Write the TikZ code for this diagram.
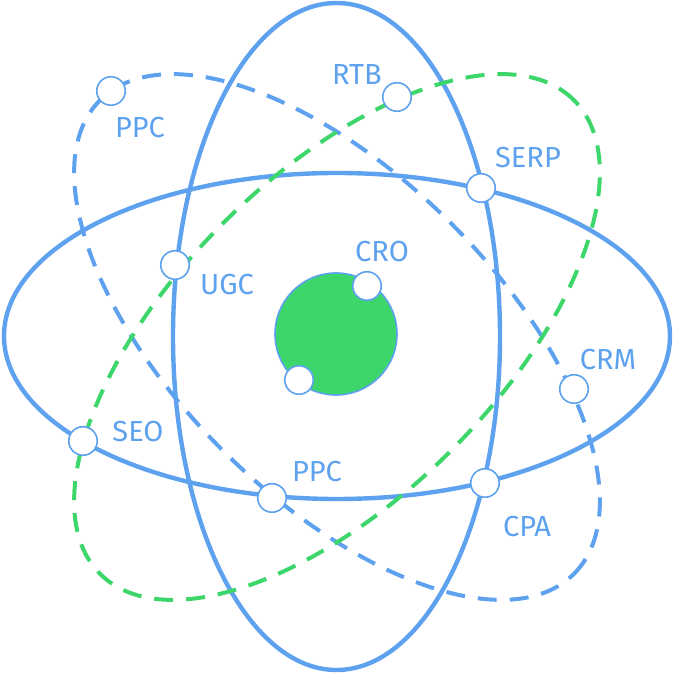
\documentclass[tikz,border=0pt]{standalone}
\usepackage{fontspec}
\setmainfont{Fira Sans}
\definecolor{orbitblue}{HTML}{5EA2EF}
\definecolor{orbitgreen}{HTML}{3DD66B}
\tikzset{
  orbit/.style={draw=orbitblue,line width=4.4pt},
  dashorbit/.style={line width=4pt,dash pattern=on 19pt off 13pt},
  planet/.style={circle,draw=orbitblue,line width=1.6pt,fill=white,minimum size=28.5pt,inner sep=0pt},
  tag/.style={text=orbitblue,inner sep=0pt,font=\fontsize{29}{29}\selectfont}
}

\begin{document}
\begin{tikzpicture}[x=1pt,y=1pt]
    \useasboundingbox (0,0) rectangle (675,675);
    % orbits
    \draw[orbit] (337,339) ellipse [x radius=333,y radius=163];
    \draw[orbit] (336.5,338.5) ellipse [x radius=163.5,y radius=333.5];
    \draw[dashorbit,orbitblue,rotate around={-45:(337,338)}] (337,338) ellipse [x radius=335,y radius=161];
    \draw[dashorbit,orbitgreen,rotate around={45:(337,338)}] (337,338) ellipse [x radius=335,y radius=161];
    \draw[orbitblue,line width=1.6pt,fill=orbitgreen] (336,341) circle [radius=61];
    % planets
    \node[planet] (ppcA) at (111,584) {};
    \node[planet] (rtb) at (397,578) {};
    \node[planet] (serp) at (481,487) {};
    \node[planet] (cro) at (367,389) {};
    \node[planet] (ugc) at (175,410) {};
    \node[planet] (core) at (299,295) {};
    \node[planet] (seo) at (83,234) {};
    \node[planet] (ppcB) at (272,177) {};
    \node[planet] (crm) at (574,286) {};
    \node[planet] (cpa) at (485,192) {};
    % labels
    \node[tag] (ppcAtag) at (140,547) {PPC};
    \node[tag] (rtbtag) at (357,600) {RTB};
    \node[tag] (serptag) at (528,517.5) {SERP};
    \node[tag] (crotag) at (382,423) {CRO};
    \node[tag] (ugctag) at (227,390.5) {UGC};
    \node[tag] (seotag) at (138,243.5) {SEO};
    \node[tag] (ppcBtag) at (317,203.5) {PPC};
    \node[tag] (crmtag) at (608,315.5) {CRM};
    \node[tag] (cpatag) at (527,148) {CPA};
\end{tikzpicture}
\end{document}
